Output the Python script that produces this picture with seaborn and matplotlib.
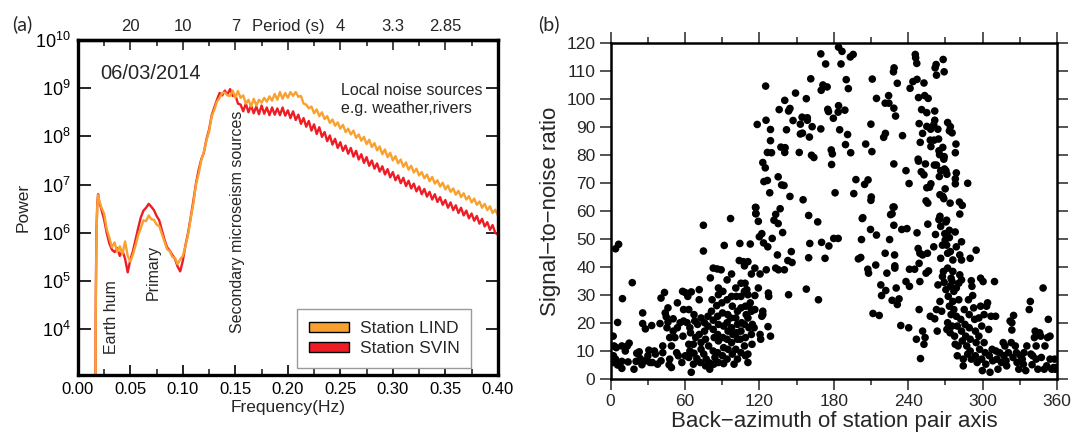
import numpy as np
import pandas as pd
import matplotlib
matplotlib.use("Agg")
import matplotlib.pyplot as plt
import seaborn as sns
from matplotlib.patches import Patch
from matplotlib.ticker import MultipleLocator, NullLocator, FixedLocator

# ---------------- data: panel (a) power spectra ----------------
prefix_freq = [0.0166, 0.0171, 0.0177, 0.0185, 0.0193]
grid_freq = list(np.round(np.arange(0.0200, 0.40001, 0.0025), 4))
freq = prefix_freq + grid_freq

lind_logp = [2.0, 4.4, 5.9, 6.55, 6.78,
    6.70, 6.52, 6.40, 6.08, 5.90, 5.70, 5.80, 5.60, 5.72, 5.56,
    5.82, 5.52, 5.40, 5.55, 5.74, 5.95, 6.10, 6.26, 6.24, 6.36,
    6.28, 6.27, 6.17, 6.14, 5.98, 5.82, 5.66, 5.62, 5.50, 5.48,
    5.35, 5.45, 5.52, 5.72, 5.96, 6.30, 6.60, 7.00, 7.22, 7.50,
    7.68, 7.92, 8.10, 8.42, 8.55, 8.72, 8.80, 8.90, 8.91, 8.85,
    8.84, 8.95, 8.80, 8.94, 8.80, 8.85, 8.68, 8.76, 8.62, 8.78,
    8.64, 8.76, 8.70, 8.80, 8.72, 8.83, 8.74, 8.88, 8.76, 8.92,
    8.78, 8.90,
    8.80, 8.92, 8.84, 8.92, 8.82, 8.84, 8.68, 8.66, 8.58, 8.62,
    8.48, 8.56, 8.42, 8.50, 8.36, 8.42, 8.28, 8.35, 8.22, 8.29,
    8.16, 8.24, 8.09, 8.16, 8.04, 8.12, 7.97, 8.04, 7.91, 7.99,
    7.84, 7.93, 7.78, 7.86, 7.71, 7.79, 7.63, 7.73, 7.57, 7.66,
    7.50, 7.59, 7.44, 7.52, 7.37, 7.46, 7.31, 7.39, 7.25, 7.33,
    7.19, 7.26, 7.13, 7.21, 7.07, 7.16, 7.02, 7.09, 6.96, 7.04,
    6.90, 6.98, 6.85, 6.92, 6.79, 6.87, 6.74, 6.82, 6.69, 6.76,
    6.63, 6.71, 6.58, 6.65, 6.52, 6.60, 6.47, 6.55, 6.41, 6.48,
    6.36]

svin_logp = [2.0, 4.6, 6.0, 6.6, 6.80,
    6.68, 6.48, 6.28, 6.00, 5.78, 5.65, 5.60, 5.68, 5.52, 5.63,
    5.46, 5.18, 5.44, 5.62, 5.86, 6.10, 6.32, 6.46, 6.52, 6.60,
    6.54, 6.47, 6.35, 6.26, 6.06, 5.86, 5.70, 5.63, 5.54, 5.46,
    5.30, 5.20, 5.42, 5.74, 6.00, 6.32, 6.66, 7.02, 7.30, 7.52,
    7.66, 7.94, 8.14, 8.44, 8.60, 8.76, 8.90, 8.85, 8.95, 8.87,
    8.98, 8.84, 8.86, 8.68, 8.66, 8.52, 8.68, 8.50, 8.64, 8.48,
    8.62, 8.46, 8.64, 8.47, 8.60, 8.44, 8.60, 8.45, 8.58, 8.44,
    8.60, 8.43,
    8.54, 8.38, 8.52, 8.34, 8.45, 8.26, 8.38, 8.20, 8.32, 8.12,
    8.25, 8.05, 8.19, 7.99, 8.09, 7.90, 8.02, 7.83, 7.95, 7.76,
    7.88, 7.70, 7.81, 7.64, 7.76, 7.58, 7.70, 7.52, 7.63, 7.45,
    7.57, 7.39, 7.50, 7.33, 7.44, 7.27, 7.38, 7.21, 7.32, 7.15,
    7.26, 7.09, 7.19, 7.03, 7.14, 6.97, 7.08, 6.92, 7.02, 6.86,
    6.96, 6.80, 6.91, 6.75, 6.85, 6.69, 6.80, 6.64, 6.74, 6.58,
    6.68, 6.52, 6.63, 6.47, 6.57, 6.41, 6.52, 6.36, 6.46, 6.30,
    6.40, 6.25, 6.35, 6.19, 6.29, 6.13, 6.22, 6.06, 6.16, 6.00,
    5.96]

stations = ["Station LIND", "Station SVIN"]
station_colors = {"Station LIND": "#F8A130", "Station SVIN": "#EE1C25"}

period_tick_freq = [0.05, 0.10, 0.15, 0.20, 0.25, 0.30, 0.35]
period_tick_labels = ["20", "10", "7", "Period (s)", "4", "3.3", "2.85"]

# ---------------- data: panel (b) SNR vs back-azimuth ----------------
azimuth = [
    125.0, 118.2, 125.3, 128.9, 128.9, 126.4, 129.7, 122.7, 124.7, 123.6,
    126.4, 128.3, 116.8, 117.1, 135.1, 136.7, 137.3, 140.7, 140.4, 137.9,
    139.8, 144.6, 135.9, 140.4, 143.5, 144.6, 141.8, 147.1, 149.1, 152.1,
    153.0, 154.7, 153.0, 154.4, 158.6, 157.8, 158.6, 160.3, 162.0, 163.9,
    162.5, 161.4, 155.2, 169.5, 173.4, 169.8, 171.2, 174.6, 169.5, 175.1,
    175.7, 179.6, 177.9, 178.8, 178.2, 183.8, 183.5, 184.7, 181.0, 183.8,
    186.6, 185.8, 188.9, 190.0, 191.7, 191.1, 189.4, 193.6, 193.3, 195.6,
    197.8, 196.1, 205.7, 207.6, 204.8, 209.9, 211.0, 210.7, 210.2, 209.9,
    202.9, 214.4, 220.2, 221.6, 221.4, 224.4, 224.2, 228.6, 228.1, 228.4,
    229.8, 231.2, 228.4, 228.6, 225.8, 235.4, 238.2, 240.7, 241.5, 243.8,
    245.7, 246.0, 246.9, 247.1, 248.3, 248.8, 250.8, 249.7, 248.0, 248.3,
    250.5, 252.7, 251.6, 252.7, 253.3, 256.1, 255.0, 255.0, 254.4, 255.8,
    253.9, 255.0, 257.2, 258.3, 258.1, 257.8, 258.3, 260.6, 261.4, 261.4,
    260.9, 261.1, 262.8, 262.5, 261.7, 262.8, 268.2, 269.0, 263.9, 264.5,
    264.8, 265.3, 265.1, 266.2, 265.6, 267.9, 268.7, 267.9, 269.0, 268.7,
    269.3, 270.4, 271.2, 269.8, 271.8, 274.0, 273.2, 275.4, 273.8, 278.5,
    278.0, 278.8, 278.0, 278.0, 281.3, 283.6, 281.6, 288.0, 265.3, 271.0,
    2.0, 3.9, 6.4, 5.6, 2.8, 4.5, 2.2, 3.9, 2.0, 5.6,
    9.5, 17.4, 9.0, 11.8, 13.4, 14.9, 9.0, 9.0, 14.0, 18.8,
    20.5, 21.0, 23.0, 25.8, 25.8, 28.0, 23.8, 25.2, 28.0, 30.0,
    30.8, 33.1, 31.7, 33.6, 35.3, 36.1, 37.8, 39.8, 40.6, 43.4,
    44.0, 42.0, 42.0, 40.6, 46.2, 44.8, 46.2, 45.4, 47.6, 49.0,
    47.6, 47.1, 49.0, 50.4, 50.4, 51.8, 53.8, 53.8, 53.2, 54.6,
    56.0, 58.0, 60.0, 58.8, 58.8, 58.3, 60.2, 57.4, 62.2, 65.0,
    63.0, 61.6, 63.9, 64.4, 63.0, 63.9, 63.0, 65.0, 66.7, 67.2,
    67.8, 66.7, 68.6, 67.2, 69.5, 71.4, 72.9, 70.1, 71.4, 72.9,
    72.9, 72.3, 71.4, 74.8, 74.8, 75.7, 75.7, 76.5, 75.1, 77.1,
    76.5, 78.5, 78.5, 79.0, 79.9, 79.9, 80.4, 82.7, 81.8, 81.3,
    82.7, 82.7, 83.5, 82.7, 84.1, 83.2, 86.0, 86.9, 86.9, 85.5,
    86.3, 86.9, 86.3, 86.9, 86.3, 86.9, 89.1, 91.6, 90.5, 89.7,
    90.2, 91.1, 90.5, 91.1, 90.2, 91.1, 93.9, 93.9, 94.4, 93.9,
    94.7, 93.9, 94.7, 93.9, 96.7, 97.5, 97.5, 98.1, 96.7, 97.5,
    98.6, 97.5, 98.1, 99.5, 100.9, 101.4, 102.3, 100.9, 102.3, 101.4,
    102.3, 100.9, 102.3, 104.2, 103.7, 105.1, 105.1, 105.1, 105.6, 105.1,
    104.5, 105.1, 107.0, 107.9, 108.4, 107.9, 108.7, 109.3, 107.9, 108.7,
    107.9, 108.7, 110.7, 109.8, 110.7, 111.5, 110.7, 111.5, 110.7, 110.7,
    112.6, 113.5, 112.6, 113.5, 114.3, 113.5, 114.0, 116.3, 116.3, 116.3,
    115.7, 117.1, 117.1, 119.1, 119.9, 120.5, 119.1, 120.5, 121.0, 121.9,
    123.3, 122.7, 122.7, 121.9, 126.7, 127.2, 127.5, 126.9, 128.9, 125.5,
    130.3, 131.7, 133.1, 135.1, 133.1, 135.3, 138.7, 134.5, 142.9, 145.7,
    146.3, 143.5, 140.1, 159.7, 160.6, 159.7, 157.8, 167.0, 167.6, 170.1,
    172.9, 176.0, 179.9, 183.5, 199.8, 201.7, 202.3, 203.4, 207.4, 208.0,
    209.6, 211.6, 213.8, 214.4, 216.6, 217.9, 218.5, 221.4, 221.9, 222.8,
    225.0, 227.0, 227.8, 228.4, 229.0, 229.2, 229.2, 227.0, 230.3, 231.2,
    232.6, 234.0, 234.8, 239.0, 238.2, 241.0, 240.4, 241.0, 245.2, 246.6,
    247.1, 248.0, 248.8, 249.4, 248.8, 249.4, 249.9, 251.6, 252.7, 253.6,
    251.6, 254.4, 255.5, 255.8, 256.4, 257.8, 260.6, 261.4, 262.8, 263.4,
    262.0, 264.0, 264.8, 265.6, 266.2, 267.6, 266.2, 265.6, 267.0, 267.6,
    268.4, 269.0, 269.5, 270.4, 269.8, 271.0, 271.8, 270.4, 271.8, 272.3,
    271.8, 271.2, 273.2, 273.2, 274.0, 274.6, 274.0, 273.2, 274.6, 273.8,
    275.4, 276.0, 276.0, 275.4, 276.8, 276.0, 276.8, 277.4, 277.9, 277.9,
    278.8, 278.8, 278.8, 279.6, 280.2, 279.6, 280.8, 280.8, 281.6, 281.6,
    283.0, 283.0, 283.0, 282.4, 283.0, 283.6, 284.4, 284.4, 285.2, 285.8,
    286.4, 287.2, 288.0, 288.6, 289.2, 289.2, 290.0, 290.0, 290.9, 290.9,
    291.4, 292.0, 290.0, 294.8, 292.8, 293.6, 294.2, 294.8, 294.2, 295.6,
    297.0, 297.6, 297.0, 298.4, 298.4, 299.3, 299.3, 299.8, 300.4, 301.2,
    301.2, 302.1, 302.6, 303.2, 304.0, 304.9, 305.4, 306.0, 306.8, 307.7,
    308.2, 309.6, 310.5, 310.8, 311.6, 312.4, 313.8, 315.2, 316.6, 317.2,
    318.0, 318.9, 319.4, 320.8, 322.2, 323.6, 323.1, 323.6, 324.5, 325.0,
    326.4, 327.3, 327.8, 329.2, 330.6, 332.0, 332.9, 333.4, 334.8, 335.7,
    337.6, 338.5, 339.0, 339.9, 340.4, 341.8, 342.4, 343.2, 343.2, 344.6,
    346.0, 346.9, 347.4, 348.8, 349.7, 350.3, 351.7, 352.4, 353.0, 354.4,
    354.4, 355.8, 357.3, 358.1, 358.7, 359.2]

snr = [
    104.6, 90.9, 92.4, 89.1, 85.1, 80.9, 80.8, 77.3, 75.4, 70.5,
    70.9, 66.5, 61.3, 59.1, 72.2, 60.8, 82.8, 82.6, 80.9, 69.3,
    69.1, 65.2, 96.2, 99.5, 95.7, 96.6, 89.0, 92.3, 102.1, 80.9,
    87.5, 87.8, 91.0, 93.5, 93.3, 100.1, 92.4, 86.4, 79.9, 79.1,
    90.1, 107.2, 64.0, 116.1, 112.5, 103.1, 105.0, 104.3, 89.3, 96.3,
    95.5, 93.1, 81.8, 80.4, 76.6, 97.6, 95.3, 89.0, 66.5, 118.5,
    117.0, 112.5, 96.0, 106.9, 103.7, 87.3, 83.7, 80.8, 115.0, 115.9,
    71.2, 66.2, 83.9, 71.1, 69.5, 91.0, 107.1, 81.2, 65.0, 63.8,
    57.3, 100.2, 86.3, 87.7, 98.5, 98.5, 101.2, 111.1, 109.7, 96.7,
    93.9, 105.6, 76.8, 61.4, 58.7, 86.9, 74.4, 69.8, 103.8, 106.2,
    115.9, 114.7, 112.7, 107.0, 100.5, 91.2, 96.2, 84.5, 78.5, 77.8,
    74.0, 72.9, 87.7, 105.7, 101.2, 100.2, 95.1, 90.2, 63.6, 62.8,
    76.8, 68.3, 68.5, 69.7, 89.2, 85.3, 83.0, 90.8, 92.4, 95.7,
    85.3, 76.4, 76.4, 112.3, 111.1, 108.5, 114.1, 109.7, 89.2, 85.7,
    81.5, 80.1, 72.3, 74.4, 65.8, 65.2, 64.4, 82.7, 79.4, 78.5,
    75.0, 74.4, 73.1, 67.9, 91.6, 90.1, 88.6, 87.9, 62.8, 83.9,
    80.8, 73.6, 71.5, 69.7, 63.2, 62.0, 58.9, 69.9, 57.3, 56.7,
    15.3, 46.5, 48.1, 20.2, 11.8, 11.2, 8.3, 7.1, 5.9, 5.0,
    28.7, 34.4, 11.8, 10.0, 11.8, 12.8, 6.3, 3.8, 6.1, 3.5,
    6.3, 9.2, 9.7, 23.6, 19.8, 17.9, 7.3, 5.1, 6.5, 8.3,
    10.3, 19.1, 5.9, 5.9, 10.0, 8.9, 5.3, 19.8, 28.9, 30.9,
    23.6, 11.8, 9.4, 6.5, 25.4, 22.2, 20.3, 18.3, 14.8, 11.8,
    7.1, 5.1, 4.1, 21.5, 17.1, 14.8, 27.2, 18.3, 9.4, 8.3,
    20.1, 31.3, 30.9, 24.8, 20.7, 15.3, 8.3, 5.9, 29.5, 31.1,
    24.8, 20.1, 18.3, 16.5, 12.4, 10.0, 7.7, 2.4, 5.3, 23.0,
    20.7, 12.4, 14.8, 9.2, 7.3, 28.3, 21.8, 19.5, 15.9, 13.0,
    10.6, 5.9, 31.9, 54.9, 45.7, 20.1, 17.1, 14.2, 8.9, 7.1,
    4.7, 22.4, 18.9, 11.8, 5.7, 3.5, 36.1, 39.6, 28.3, 24.2,
    21.0, 17.7, 14.8, 10.0, 7.7, 5.3, 39.3, 32.5, 30.1, 26.2,
    22.4, 19.5, 15.9, 13.6, 9.4, 5.9, 39.0, 47.7, 31.3, 27.2,
    23.6, 18.9, 14.8, 11.2, 8.3, 5.5, 35.4, 28.3, 23.0, 20.1,
    17.1, 14.2, 10.6, 7.1, 57.3, 37.5, 29.5, 26.0, 21.8, 18.3,
    15.9, 13.0, 8.9, 5.3, 32.5, 29.5, 24.2, 21.8, 19.5, 16.5,
    14.2, 10.6, 7.1, 48.4, 42.3, 34.2, 29.5, 25.4, 20.1, 17.1,
    14.2, 9.4, 41.9, 40.4, 34.2, 31.3, 26.0, 23.0, 19.5, 14.8,
    11.8, 8.3, 41.9, 31.9, 30.1, 26.0, 21.8, 18.3, 8.9, 5.9,
    48.2, 37.5, 27.2, 24.2, 19.5, 15.9, 12.4, 39.6, 29.8, 24.8,
    18.3, 59.0, 61.2, 56.3, 50.8, 37.5, 32.5, 15.9, 14.2, 51.9,
    48.6, 24.2, 23.0, 22.4, 47.2, 30.7, 29.5, 18.7, 15.3, 39.0,
    50.2, 56.7, 58.8, 55.5, 39.6, 39.0, 52.3, 44.3, 42.3, 45.5,
    41.6, 30.1, 39.0, 58.4, 48.4, 43.3, 32.1, 56.1, 28.3, 48.8,
    43.1, 47.5, 50.2, 50.2, 42.9, 43.4, 49.8, 57.6, 39.2, 37.8,
    53.4, 23.4, 40.7, 51.4, 22.7, 33.6, 29.8, 44.9, 31.6, 37.8,
    49.8, 59.0, 61.4, 54.9, 44.3, 40.4, 39.6, 28.1, 32.5, 26.6,
    28.6, 19.1, 53.4, 53.7, 34.8, 33.1, 18.3, 39.2, 39.2, 14.2,
    52.2, 46.6, 24.8, 44.9, 41.3, 34.8, 7.3, 17.1, 12.4, 14.8,
    44.3, 37.8, 44.9, 55.3, 38.6, 22.4, 47.2, 21.5, 24.8, 17.1,
    51.6, 33.6, 56.9, 58.1, 54.5, 47.8, 43.1, 27.7, 24.2, 36.6,
    38.4, 34.5, 51.9, 56.1, 49.6, 47.8, 44.9, 31.9, 39.6, 29.5,
    20.1, 17.7, 53.1, 50.5, 45.5, 36.0, 33.1, 26.0, 23.0, 16.5,
    18.9, 42.5, 38.4, 34.8, 31.3, 27.7, 24.8, 15.3, 12.4, 52.5,
    47.2, 32.5, 22.4, 18.9, 11.8, 8.3, 34.2, 28.3, 37.2, 44.3,
    49.0, 42.5, 35.4, 21.3, 17.1, 13.6, 7.1, 4.7, 24.8, 19.5,
    15.3, 11.8, 8.9, 28.3, 23.0, 18.3, 14.2, 10.0, 7.1, 35.1,
    33.1, 29.8, 43.1, 46.0, 25.4, 21.3, 17.1, 13.0, 8.3, 5.9,
    15.3, 10.6, 21.8, 36.0, 26.0, 18.9, 7.1, 3.0, 34.8, 23.0,
    13.0, 9.4, 5.3, 26.0, 27.2, 17.7, 8.3, 2.4, 22.4, 10.6,
    6.5, 34.8, 22.4, 10.0, 7.1, 3.5, 9.4, 5.9, 13.0, 8.3,
    11.8, 6.5, 4.7, 9.4, 20.7, 20.1, 13.0, 17.5, 7.7, 22.7,
    11.8, 9.4, 5.9, 3.5, 8.3, 7.1, 5.3, 9.4, 3.0, 11.8,
    24.8, 27.7, 8.9, 5.1, 8.3, 14.8, 17.1, 11.8, 7.1, 3.5,
    16.5, 15.3, 7.7, 32.5, 3.5, 11.8, 4.7, 14.8, 21.3, 15.3,
    7.1, 3.5, 4.1, 7.1, 3.5, 4.1]

# ---------------- build tables ----------------
spec = pd.DataFrame({
    "freq": freq * 2,
    "power": list(10.0 ** np.array(lind_logp)) + list(10.0 ** np.array(svin_logp)),
    "station": ["Station LIND"] * len(freq) + ["Station SVIN"] * len(freq),
})
scat = pd.DataFrame({"az": azimuth, "snr": snr})

# ---------------- style ----------------
sns.set_theme(style="ticks")
plt.rcParams["font.family"] = ["Liberation Sans", "DejaVu Sans"]
plt.rcParams["mathtext.fontset"] = "custom"
plt.rcParams["mathtext.rm"] = "Liberation Sans"
plt.rcParams["mathtext.it"] = "Liberation Sans:italic"
plt.rcParams["axes.unicode_minus"] = True

fig = plt.figure(figsize=(10.78, 4.37), dpi=100)
ax1 = fig.add_axes([0.0722, 0.1419, 0.3896, 0.7666])
ax2 = fig.add_axes([0.5665, 0.1327, 0.4140, 0.7690])

# ---------------- panel (a) ----------------
sns.lineplot(data=spec, x="freq", y="power", hue="station",
             hue_order=["Station SVIN", "Station LIND"], palette=station_colors,
             estimator=None, linewidth=1.7, legend=False, ax=ax1)
ax1.set_yscale("log")
ax1.set_xlim(0, 0.4)
ax1.set_ylim(10 ** 3.05, 1e10)
ax1.set_xticks([0.0, 0.05, 0.10, 0.15, 0.20, 0.25, 0.30, 0.35, 0.40])
ax1.set_xticklabels(["0.00", "0.05", "0.10", "0.15", "0.20", "0.25", "0.30", "0.35", "0.40"])
ax1.xaxis.set_minor_locator(MultipleLocator(0.025))
ax1.yaxis.set_major_locator(FixedLocator([1e4, 1e5, 1e6, 1e7, 1e8, 1e9, 1e10]))
ax1.yaxis.set_minor_locator(NullLocator())
ax1.tick_params(axis="both", which="major", direction="in", length=7, width=1.2,
                labelsize=12, top=False, right=True, pad=5, colors="black")
ax1.tick_params(axis="x", which="minor", direction="in", length=4, width=1.2, top=False)
ax1.tick_params(axis="y", which="major", length=9, labelsize=13)
ax1.set_xlabel("Frequency(Hz)", fontsize=12.5, labelpad=2)
ax1.set_ylabel("Power", fontsize=12.5, labelpad=3)
for sp in ax1.spines.values():
    sp.set_linewidth(2.4)
    sp.set_color("black")

sec = ax1.secondary_xaxis("top")
sec.set_xticks(period_tick_freq)
sec.set_xticklabels(period_tick_labels)
sec.xaxis.set_minor_locator(MultipleLocator(0.025))
sec.tick_params(axis="x", which="major", direction="in", length=7, width=1.2, labelsize=12, pad=4)
sec.tick_params(axis="x", which="minor", direction="in", length=4, width=1.2)
sec.spines["top"].set_linewidth(2.4)

ax1.text(0.053, 0.90, "06/03/2014", transform=ax1.transAxes, fontsize=14.5, va="center", ha="left")
ax1.text(0.627, 0.85, "Local noise sources", transform=ax1.transAxes, fontsize=11.5, va="center", ha="left")
ax1.text(0.627, 0.795, "e.g. weather,rivers", transform=ax1.transAxes, fontsize=11.5, va="center", ha="left")
ax1.text(0.079, 0.174, "Earth hum", transform=ax1.transAxes, fontsize=11.5, rotation=90, va="center", ha="center")
ax1.text(0.180, 0.306, "Primary", transform=ax1.transAxes, fontsize=11.5, rotation=90, va="center", ha="center")
ax1.text(0.381, 0.457, "Secondary microseism sources", transform=ax1.transAxes, fontsize=11.5,
         rotation=90, va="center", ha="center")

handles = [Patch(facecolor=station_colors[s], edgecolor="black", linewidth=1.0, label=s) for s in stations]
leg = ax1.legend(handles=handles, loc="lower left", bbox_to_anchor=(0.522, 0.02), fontsize=12.5,
                 frameon=True, fancybox=False, edgecolor="#9a9a9a", framealpha=1,
                 handlelength=2.3, handleheight=0.55, handletextpad=0.6, borderpad=0.7,
                 labelspacing=0.3, borderaxespad=0)
leg.get_frame().set_linewidth(1.0)

# ---------------- panel (b) ----------------
sns.scatterplot(data=scat, x="az", y="snr", color="black", s=30, edgecolor="none",
                linewidth=0, ax=ax2)
ax2.set_xlim(0, 360)
ax2.set_ylim(0, 120)
ax2.set_xticks(range(0, 361, 60))
ax2.xaxis.set_minor_locator(MultipleLocator(30))
ax2.set_yticks(range(0, 121, 10))
ax2.tick_params(axis="both", which="major", direction="out", length=8, width=1.1,
                labelsize=12.5, top=True, right=True, labeltop=False, labelright=False, pad=3)
ax2.tick_params(axis="x", which="minor", direction="out", length=4, width=1.1, top=True)
ax2.set_xlabel("Back\u2212azimuth of station pair axis", fontsize=16, labelpad=1)
ax2.set_ylabel("Signal\u2212to\u2212noise ratio", fontsize=16, labelpad=4)
for sp in ax2.spines.values():
    sp.set_linewidth(1.8)
    sp.set_color("black")

fig.text(0.011, 0.945, "(a)", fontsize=14, family=["Lato", "DejaVu Sans"], va="center")
fig.text(0.499, 0.945, "(b)", fontsize=14, family=["Lato", "DejaVu Sans"], va="center")

fig.savefig("out.png", dpi=100)
